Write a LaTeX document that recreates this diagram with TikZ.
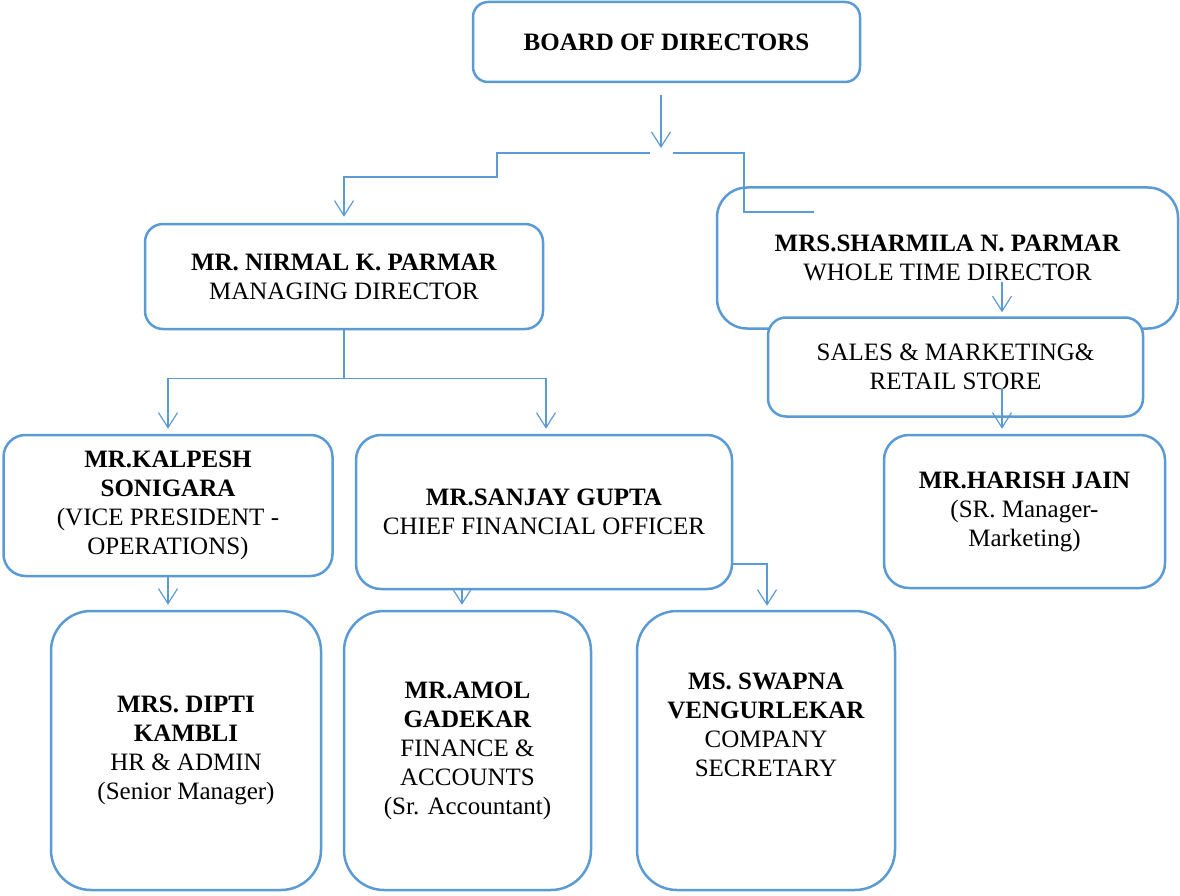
\documentclass[tikz,border=0pt]{standalone}
\usepackage{fontspec}
\setmainfont{Liberation Serif}
\usetikzlibrary{arrows.meta}
\definecolor{orgblue}{HTML}{5B9BD5}
\tikzset{orgbox/.style={draw=orgblue,line width=2.5pt,fill=white,align=center,inner sep=0pt,font=\fontsize{25}{29}\selectfont},
  orglink/.style={draw=orgblue,line width=1.2pt,-{Straight Barb[length=15pt,width=19pt]}}}
\begin{document}
\begin{tikzpicture}[x=1pt,y=-1pt]
\useasboundingbox (0,0) rectangle (1180,896);
\node[orgbox,minimum width=387pt,minimum height=80pt,rounded corners=15pt] (bod) at (666.5,42) {\textbf{BOARD OF DIRECTORS}};
\node[orgbox,minimum width=398pt,minimum height=105pt,rounded corners=18pt] (nirmal) at (344,276.5) {\textbf{MR. NIRMAL K. PARMAR}\\MANAGING DIRECTOR};
\node[orgbox,minimum width=461pt,minimum height=141pt,rounded corners=30pt] (sharmila) at (947.5,258) {\textbf{MRS.SHARMILA N. PARMAR}\\WHOLE TIME DIRECTOR};
\node[orgbox,minimum width=375pt,minimum height=99pt,rounded corners=18pt] (sales) at (955.5,367) {SALES \& MARKETING\&\\RETAIL STORE};
\node[orgbox,minimum width=281pt,minimum height=153pt,rounded corners=25pt] (harish) at (1024.5,511.5) {\textbf{MR.HARISH JAIN}\\(SR. Manager-\\Marketing)};
\node[orgbox,minimum width=329pt,minimum height=141pt,rounded corners=22pt] (kalpesh) at (168,505.5) {\textbf{MR.KALPESH}\\\textbf{SONIGARA}\\(VICE PRESIDENT -\\OPERATIONS)};
\node[orgbox,minimum width=376pt,minimum height=154pt,rounded corners=25pt] (sanjay) at (544,512) {\textbf{MR.SANJAY GUPTA}\\CHIEF FINANCIAL OFFICER};
\node[orgbox,minimum width=270pt,minimum height=279pt,rounded corners=40pt] (dipti) at (186,750.5) {\textbf{MRS. DIPTI}\\\textbf{KAMBLI}\\HR \& ADMIN\\(Senior Manager)};
\node[orgbox,minimum width=247pt,minimum height=279pt,rounded corners=40pt] (amol) at (467.5,750.5) {\textbf{MR.AMOL}\\\textbf{GADEKAR}\\FINANCE \&\\ACCOUNTS\\(Sr. Accountant)};
\node[orgbox,minimum width=258pt,minimum height=279pt,rounded corners=40pt] (swapna) at (766,750.5) {};
\node[orgbox,draw=none,fill=none] (swapnatext) at (766,725) {\textbf{MS. SWAPNA}\\\textbf{VENGURLEKAR}\\COMPANY\\SECRETARY};
\coordinate (split) at (661,153);
\coordinate (sharmilaend) at (814,212);
\draw[orglink] ([xshift=-5.5pt,yshift=-12pt]bod.south) -- ([yshift=5pt]split);
\draw[orglink] ([xshift=-11pt]split) -| ++(-153,24) -| ([yshift=6pt]nirmal.north);
\draw[orglink,-] ([xshift=12pt]split) -| ([xshift=-70pt]sharmilaend) -- (sharmilaend);
\draw[orglink] (nirmal.south) -- ++(0,48) -| ([yshift=5pt]kalpesh.north);
\draw[orglink] (nirmal.south) -- ++(0,48) -| ([xshift=2pt,yshift=5pt]sanjay.north);
\draw[orglink] ([xshift=54.5pt,yshift=-24pt]sharmila.center) -- ([xshift=46.5pt,yshift=4pt]sales.north);
\draw[orglink] ([xshift=46.5pt,yshift=-21pt]sales.center) -- ([xshift=-22.5pt,yshift=5pt]harish.north);
\draw[orglink] (kalpesh.south) -- ([xshift=-18pt,yshift=5pt]dipti.north);
\draw[orglink] ([xshift=-82pt]sanjay.south) -- ([xshift=-5.5pt,yshift=5pt]amol.north);
\draw[orglink] ([yshift=-52pt]sanjay.east) -| ([xshift=1pt,yshift=4pt]swapna.north);
\end{tikzpicture}
\end{document}
